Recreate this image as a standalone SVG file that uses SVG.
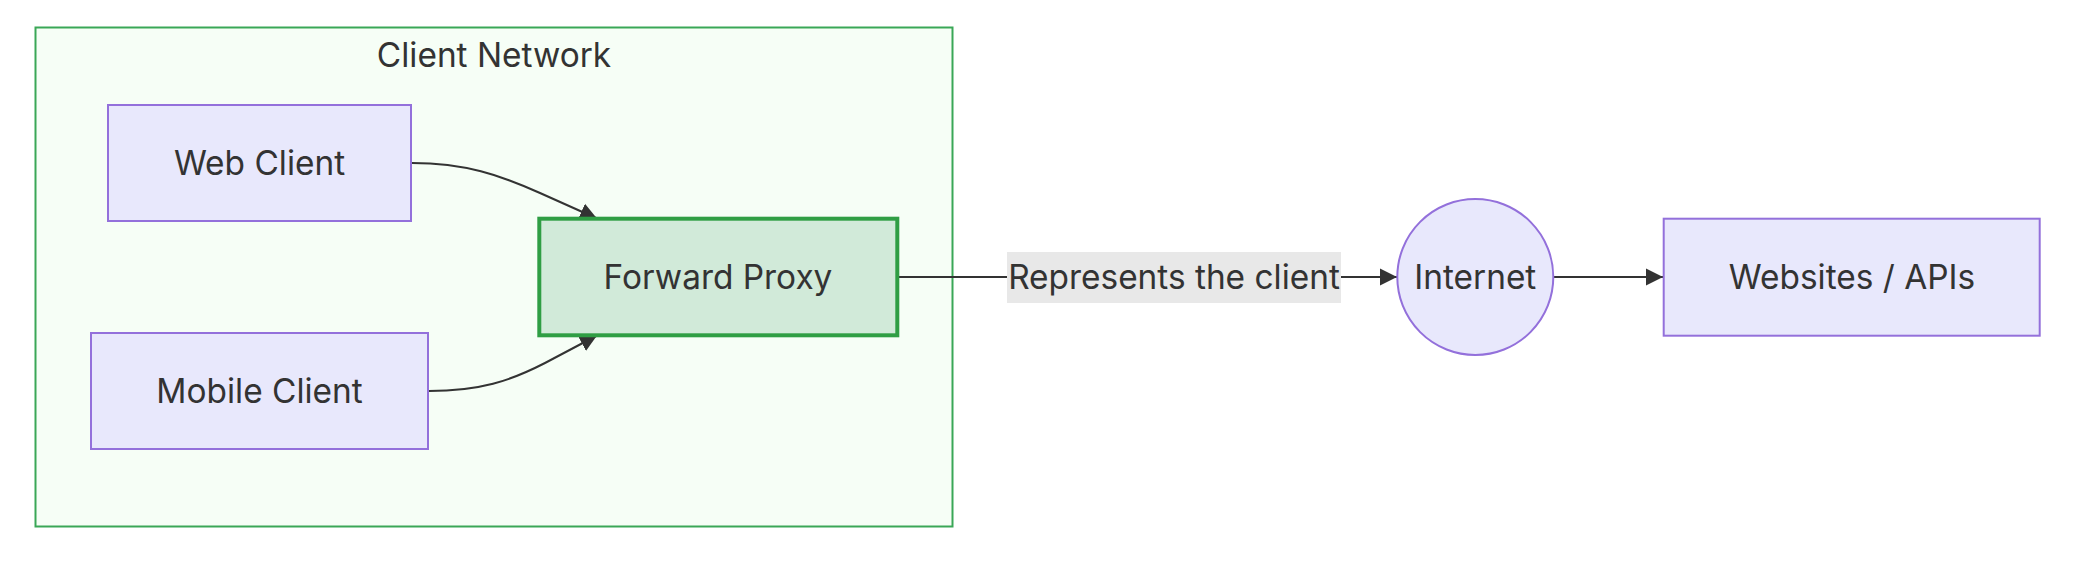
<svg xmlns="http://www.w3.org/2000/svg" width="2096" height="562" viewBox="0 0 2096 562">
<style>
text{font-family:Inter,"Liberation Sans",Arial,sans-serif;font-size:33.4px;fill:#333333;text-anchor:middle}
.n{fill:#E8E8FC;stroke:#9370DB;stroke-width:2}
.e{fill:none;stroke:#333333;stroke-width:2}
</style>
<defs>
<marker id="ah" markerUnits="userSpaceOnUse" viewBox="0 0 10 10" refX="10" refY="5" markerWidth="17" markerHeight="18" orient="auto">
<path d="M0,0 L10,5 L0,10 z" fill="#333333"/>
</marker>
</defs>
<rect width="2096" height="562" fill="#ffffff"/>
<g id="cluster-client-network">
<rect x="35.5" y="27.5" width="917" height="499" fill="#F6FEF6" stroke="#3AA757" stroke-width="2"/>
<text x="494" y="67">Client Network</text>
</g>
<g id="connectors">
<path class="e" d="M412,163 C465,163 500,175 540,193 L597,218.5" marker-end="url(#ah)"/>
<path class="e" d="M429,391 C480,391 510,381 545,363 L597,335.5" marker-end="url(#ah)"/>
<path class="e" d="M899,277 L1397,277" marker-end="url(#ah)"/>
<path class="e" d="M1554,277 L1663,277" marker-end="url(#ah)"/>
</g>
<g id="web-client">
<rect class="n" x="108" y="105" width="303" height="116"/>
<text x="259.5" y="175">Web Client</text>
</g>
<g id="mobile-client">
<rect class="n" x="91" y="333" width="337" height="116"/>
<text x="259.5" y="403">Mobile Client</text>
</g>
<g id="forward-proxy">
<rect x="539.3" y="218.7" width="358" height="116.6" fill="#D1EAD9" stroke="#2F9E44" stroke-width="4"/>
<text x="718" y="289">Forward Proxy</text>
</g>
<g id="edge-label">
<rect x="1007" y="252" width="334" height="51" fill="#E8E8E8"/>
<text x="1174" y="289">Represents the client</text>
</g>
<g id="internet">
<circle class="n" cx="1475.3" cy="277" r="78"/>
<text x="1475.3" y="289">Internet</text>
</g>
<g id="websites-apis">
<rect class="n" x="1663.7" y="218.7" width="376" height="117"/>
<text x="1852" y="289">Websites / APIs</text>
</g>
</svg>
